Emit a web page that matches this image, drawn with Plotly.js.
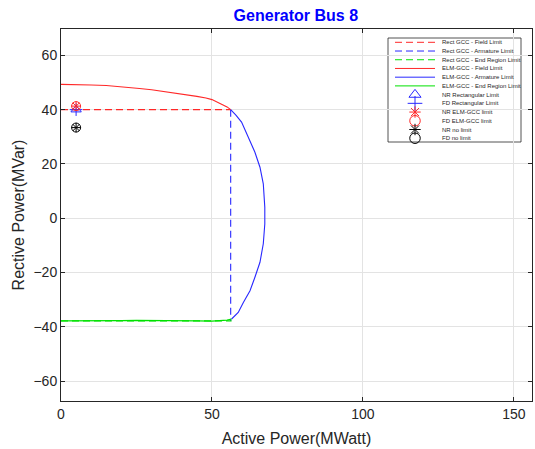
<!DOCTYPE html>
<html>
<head>
<meta charset="utf-8">
<script src="https://cdn.plot.ly/plotly-3.0.1.min.js"></script>
<style>html,body{margin:0;padding:0;background:#fff;}#chart{width:535px;height:449px;}</style>
</head>
<body>
<div id="chart"></div>
<script>
// ---- data ----
const elmFieldX = [0, 4, 10, 15, 20, 26, 30, 37, 40, 45, 48, 50, 53, 55, 56.2];
const elmFieldY = [49.3, 49.3, 49.1, 48.9, 48.5, 47.8, 47.3, 46.3, 45.8, 44.9, 44.3, 43.7, 42.1, 41.0, 40.0];

const elmArmX = [56.2, 58.0, 59.8, 62.0, 64.2, 65.9, 67.0, 67.5, 67.5, 67.0, 65.9, 64.2, 62.6, 60.4, 58.7, 56.5];
const elmArmY = [40.0, 37.9, 35.4, 29.9, 24.4, 18.8, 12.7, 4.1, -2.1, -9.4, -16.2, -21.8, -26.7, -31.0, -34.7, -37.1];

const elmEndX = [0, 5, 10, 15, 20, 25, 30, 35, 40, 45, 50, 53, 55, 56.5];
const elmEndY = [-37.8, -37.8, -37.9, -37.8, -37.7, -37.6, -37.6, -37.7, -37.6, -37.8, -37.9, -37.8, -37.5, -37.1];

const rectFieldX = [0, 56.2];
const rectFieldY = [40, 40];
const rectArmX = [56.2, 56.2];
const rectArmY = [40, -37.8];
const rectEndX = [0, 56.5];
const rectEndY = [-37.8, -37.8];

const nrRectP = [5.0], nrRectQ = [40.0];
const fdRectP = [5.0], fdRectQ = [40.0];
const nrElmP = [5.0], nrElmQ = [41.3];
const fdElmP = [5.0], fdElmQ = [41.3];
const nrNoP = [5.0], nrNoQ = [33.4];
const fdNoP = [5.0], fdNoQ = [33.4];

const xTicks = [0, 50, 100, 150];
const yTicks = [-60, -40, -20, 0, 20, 40, 60];

const legendNames = [
  'Rect GCC - Field Limit', 'Rect GCC - Armature Limit', 'Rect GCC - End Region Limit',
  'ELM-GCC - Field Limit', 'ELM-GCC - Armature Limit', 'ELM-GCC - End Region Limit',
  'NR Rectangular Limit', 'FD Rectangular Limit', 'NR ELM-GCC limit', 'FD ELM-GCC limit',
  'NR no limit', 'FD no limit'
];

// ---- styles ----
const RED = 'rgb(255,40,40)', BLUE = 'rgb(40,40,255)', GREEN = 'rgb(0,225,0)';
const DASH = '7px,4px';

const lineTraces = [
  {x: rectFieldX, y: rectFieldY, c: RED, d: DASH},
  {x: rectArmX, y: rectArmY, c: BLUE, d: DASH},
  {x: rectEndX, y: rectEndY, c: GREEN, d: DASH},
  {x: elmFieldX, y: elmFieldY, c: RED, d: 'solid'},
  {x: elmArmX, y: elmArmY, c: BLUE, d: 'solid'},
  {x: elmEndX, y: elmEndY, c: GREEN, d: 'solid'}
];
const markerDefs = [
  {x: nrRectP, y: nrRectQ, s: 'triangle-up-open', c: BLUE, z: 9},
  {x: fdRectP, y: fdRectQ, s: 'cross-thin-open', c: BLUE, z: 9},
  {x: nrElmP, y: nrElmQ, s: 'asterisk-open', c: RED, z: 8},
  {x: fdElmP, y: fdElmQ, s: 'circle-open', c: RED, z: 9},
  {x: nrNoP, y: nrNoQ, s: 'asterisk-open', c: 'black', z: 8},
  {x: fdNoP, y: fdNoQ, s: 'circle-open', c: 'black', z: 9}
];

const traces = [];
lineTraces.forEach(t => traces.push({
  type: 'scatter', mode: 'lines', x: t.x, y: t.y, showlegend: false, hoverinfo: 'skip',
  line: {color: t.c, width: 1.1, dash: t.d}
}));
markerDefs.forEach(m => traces.push({
  type: 'scatter', mode: 'markers', x: m.x, y: m.y, showlegend: false, hoverinfo: 'skip',
  marker: {symbol: m.s, size: m.z, color: m.c, line: {color: m.c, width: 1}}
}));

// ---- manual legend (layout decoration) ----
const L = 61, R = 532, T = 29, B = 401;
const px = v => (v - L) / (R - L);
const py = v => (B - v) / (B - T);
const legTop = 42.3, legStep = 8.72;
const shapes = [{
  type: 'rect', xref: 'paper', yref: 'paper', layer: 'between',
  x0: px(388), x1: px(521), y0: py(142), y1: py(38),
  fillcolor: 'white', line: {color: '#262626', width: 0.8}
}];
const annotations = [];
legendNames.forEach((name, i) => {
  const yy = legTop + i * legStep;
  if (i < 6) {
    const t = lineTraces[i];
    shapes.push({type: 'line', xref: 'paper', yref: 'paper', layer: 'above',
      x0: px(395), x1: px(435), y0: py(yy), y1: py(yy),
      line: {color: t.c, width: 1, dash: t.d === 'solid' ? 'solid' : '7px,4px'}});
  }
  annotations.push({xref: 'paper', yref: 'paper', x: px(440), y: py(yy),
    xanchor: 'left', yanchor: 'middle', showarrow: false, text: name,
    font: {family: 'Liberation Sans, Arial', size: 6, color: '#262626'}});
});
markerDefs.forEach((m, i) => {
  traces.push({
    type: 'scatter', mode: 'markers', xaxis: 'x2', yaxis: 'y2',
    x: [px(415)], y: [py(legTop + (6 + i) * legStep)],
    showlegend: false, hoverinfo: 'skip',
    marker: {symbol: m.s, size: m.z + 1.5, color: m.c, line: {color: m.c, width: 1}}
  });
});

const axFont = {family: 'Liberation Sans, Arial', size: 14, color: '#262626'};
const titleFont = {family: 'Liberation Sans, Arial', size: 16, color: '#262626'};
const layout = {
  width: 535, height: 449,
  margin: {l: L, r: 535 - R, t: T, b: 449 - B},
  paper_bgcolor: 'white', plot_bgcolor: 'white',
  title: {text: '<b>Generator Bus 8</b>', font: {family: 'Liberation Sans, Arial', size: 16, color: '#0000ff'},
    x: 0.553, xanchor: 'center', y: 1 - 15 / 449, yref: 'container', yanchor: 'middle'},
  xaxis: {range: [0, 156], tickvals: xTicks, ticks: 'inside', ticklen: 4, tickcolor: '#262626',
    showline: true, mirror: 'ticks', linecolor: '#262626', linewidth: 1,
    showgrid: true, gridcolor: '#e3e3e3', gridwidth: 1, zeroline: false, tickfont: axFont,
    title: {text: 'Active Power(MWatt)', font: titleFont, standoff: 12}},
  yaxis: {range: [-67.3, 69.7], tickvals: yTicks, ticks: 'inside', ticklen: 4, tickcolor: '#262626',
    showline: true, mirror: 'ticks', linecolor: '#262626', linewidth: 1,
    showgrid: true, gridcolor: '#e3e3e3', gridwidth: 1, zeroline: false, tickfont: axFont,
    title: {text: 'Rective Power(MVar)', font: titleFont, standoff: 4}},
  xaxis2: {overlaying: 'x', range: [0, 1], visible: false, fixedrange: true},
  yaxis2: {overlaying: 'y', range: [0, 1], visible: false, fixedrange: true},
  shapes: shapes, annotations: annotations, showlegend: false
};
Plotly.newPlot('chart', traces, layout, {displayModeBar: false, staticPlot: true});
</script>
</body>
</html>
